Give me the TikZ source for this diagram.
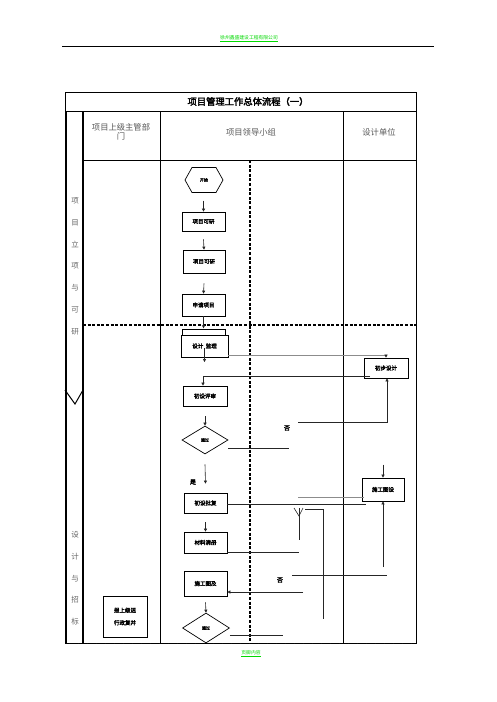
\documentclass[tikz,border=0pt]{standalone}
\usepackage{fontspec}
\newfontfamily\cjk[AutoFakeBold=2.5]{Noto Sans CJK SC}
\usetikzlibrary{shapes.geometric,arrows.meta}
\tikzset{
  box/.style={draw, line width=0.7pt, inner sep=0pt, fill=white, font=\cjk\bfseries\fontsize{5.5}{6.5}\selectfont},
  dia/.style={draw, diamond, line width=0.7pt, inner sep=0pt, aspect=1.6, font=\cjk\bfseries\fontsize{4}{5}\selectfont},
  conn/.style={line width=0.6pt, draw=black!85},
  gconn/.style={line width=0.6pt, draw=black!45},
  arr/.style={conn, -{Triangle[width=3pt,length=3pt]}},
  frame/.style={line width=0.8pt},
  thickline/.style={line width=1.8pt},
  dashline/.style={line width=1.4pt, dash pattern=on 3pt off 1.6pt},
  hdr/.style={font=\cjk\fontsize{8.3}{10}\selectfont, text=black!65},
  strip/.style={font=\cjk\fontsize{7.5}{9}\selectfont, text=black!60},
  lbl/.style={font=\cjk\bfseries\fontsize{6}{7}\selectfont},
  green/.style={font=\cjk\fontsize{4.8}{5.5}\selectfont, text=green!85!black}
}
\begin{document}
\begin{tikzpicture}[x=1pt,y=-1pt]
\useasboundingbox (0,0) rectangle (496,702);
\fill[white] (0,0) rectangle (496,702);
% page header and footer
\node[green] (head) at (249,39) {\underline{徐州鑫盛建设工程有限公司}};
\draw[line width=0.8pt] (62,46.5) -- (434,46.5);
\node[green] (foot) at (251,654) {\underline{页脚内容}};
% table
\draw[frame] (65,92) rectangle (416,643);
\draw[frame] (65,111) -- (416,111);
\draw[frame] (83,160) -- (416,160);
\draw[frame] (160,111) -- (160,643);
\draw[frame] (343,111) -- (343,643);
\draw[thickline] (66,111) -- (66,643);
\draw[thickline] (83,111) -- (83,643);
\draw[dashline] (250,160) -- (250,643);
\draw[dashline] (83,325) -- (416,325);
\draw[line width=1pt, dash pattern=on 3pt off 1.5pt, draw=white] (65,643) -- (416,643);
\draw[line width=1pt, dash pattern=on 3pt off 1.5pt] (65,643) -- (416,643);
\draw[line width=1pt] (65,390) -- (75,404) -- (83,390);
% titles
\node[font=\cjk\bfseries\fontsize{9.3}{11}\selectfont] (title) at (248,101.5) {项目管理工作总体流程（一）};
\node[hdr, align=center] (h1) at (121,132) {项目上级主管部\\[-1pt]门};
\node[hdr] (h2) at (251,132) {项目领导小组};
\node[hdr] (h3) at (379,132) {设计单位};
\foreach \c/\y [count=\i] in {项/201,目/222.5,立/244,项/266,与/288,可/310,研/331.5}
  \node[strip] (sa\i) at (75,\y) {\c};
\foreach \c/\y [count=\i] in {设/535,计/557,与/578.5,招/600,标/622}
  \node[strip] (sb\i) at (75,\y) {\c};
% start hexagon
\draw[line width=0.7pt] (185,180) -- (192,167.5) -- (216,167.5) -- (223,180) -- (216,192.5) -- (192,192.5) -- cycle;
\node[font=\cjk\bfseries\fontsize{4}{5}\selectfont] (start) at (204,180) {开始};
% boxes
\node[box, minimum width=43pt, minimum height=19pt] (r1) at (203.5,221.5) {\raisebox{-4pt}{项目可研}};
\node[box, minimum width=42pt, minimum height=23pt] (r2) at (204,261.5) {\raisebox{-4pt}{项目可研}};
\node[box, minimum width=43pt, minimum height=22pt] (r3) at (203.5,305) {\raisebox{-4pt}{申请项目}};
\draw[line width=0.7pt] (182,340) -- (182,329) -- (225,329) -- (225,340);
\node[box, minimum width=47pt, minimum height=22pt] (r4) at (204.5,346) {设计 \ 监理};
\node[box, minimum width=44pt, minimum height=20pt] (d1) at (386,368) {\raisebox{-2pt}{初步设计}};
\node[box, minimum width=44pt, minimum height=20pt] (r5) at (205,396) {\raisebox{-2pt}{初设评审}};
\node[dia, minimum width=46pt, minimum height=28pt] (q1) at (205,440) {通过};
\node[box, minimum width=43pt, minimum height=20pt] (r6) at (205.5,503) {\raisebox{-1pt}{初设批复}};
\node[box, minimum width=42pt, minimum height=23pt] (d2) at (383,489.5) {施工图设};
\node[box, minimum width=43pt, minimum height=21pt] (r7) at (205.5,542.5) {材料清册};
\node[box, minimum width=43pt, minimum height=25pt] (r8) at (205.5,583.5) {\raisebox{-1pt}{施工图及}};
\node[dia, minimum width=47pt, minimum height=30pt] (q2) at (206,628) {通过};
\node[box, minimum width=44pt, minimum height=41pt, align=center] (l1) at (125,616.5) {报上级送\\[6pt]行政复并};
% labels
\node[lbl] (no1) at (287,428) {否};
\node[lbl] (yes1) at (193,482) {是};
\node[lbl] (no2) at (280,580) {否};
% connectors
\draw[arr] ([yshift=11pt]r1.north) -- (r1.north);
\draw[arr] ([yshift=-8pt]r1.south) -- (r2.north);
\draw[arr] ([yshift=-10pt]r2.south) -- (r3.north);
\draw[arr] (r3.south) -- ([yshift=-12pt]r3.south);
\draw[arr] ([yshift=-2pt]r4.center) -- ([yshift=-16pt]r4.center);
\draw[gconn] ([yshift=-9pt]r4.east) -- ([yshift=-9pt]r4.east -| d1.north);
\draw[arr] ([yshift=-9pt]r4.east -| d1.north) -- (d1.north);
\coordinate (c1) at ([xshift=-16pt,yshift=-8pt]d1.center);
\draw[arr] (c1) -| ([xshift=-2pt]r5.north);
\draw[arr] ([yshift=-10pt]r5.south) -- (q1.north);
\coordinate (c2) at (289,448);
\draw[conn] ([yshift=-8pt]q1.east) -- (c2);
\coordinate (c3) at (298,422);
\draw[arr] (c3) -| ([xshift=1pt]d1.south);
\draw[arr] ([yshift=-10pt]q1.south) -- ([yshift=9pt]r6.north);
\draw[arr] ([yshift=13pt]d2.north) -- (d2.north);
\draw[conn] ([yshift=-1pt]r6.east) -- ([xshift=4pt,yshift=-1pt]r6.east -| d2.west);
\coordinate (c4) at (298,497);
\draw[gconn] (c4) -- ([xshift=2pt]c4 -| d2.west);
\coordinate (c5) at (299,540);
\draw[conn] (294,508) -- (299,516) -- (303,508);
\draw[conn] (299,508) -- (c5);
\coordinate (c6) at (323,619);
\draw[conn] (305,509) -- (323,509) -- (c6);
\draw[arr] ([yshift=-9pt]r6.south) -- (r7.north);
\coordinate (c7) at (299,552);
\draw[conn] ([yshift=-9.5pt]r7.east) -- (c7);
\coordinate (c8) at (292,575);
\draw[conn] (c8) -- (387,575);
\draw[arr] (383,567) -- (d2.south);
\coordinate (c9) at (303,592);
\draw[arr] (c9) -- ([yshift=-8.5pt]r8.east);
\draw[arr] ([yshift=-6pt]r8.south) -- (q2.north);
\coordinate (c10) at (283,635);
\draw[conn] ([yshift=-7pt]q2.east) -- (c10);
\end{tikzpicture}
\end{document}
